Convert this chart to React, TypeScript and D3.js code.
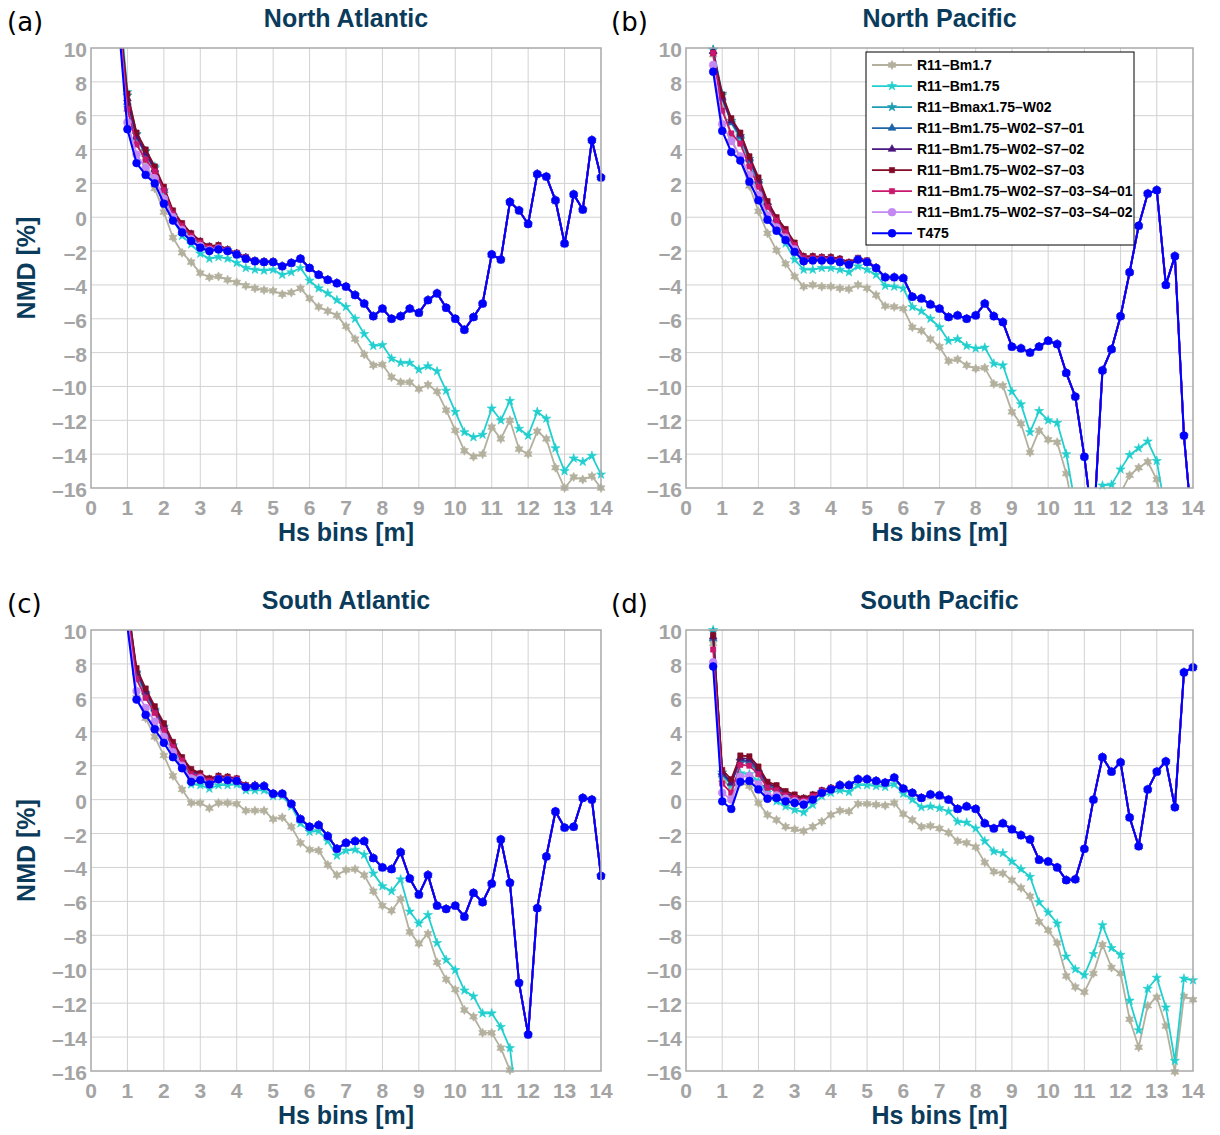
import React from "react";
import * as d3 from "d3";

// Hs bin centres [m]
const HS_BINS = [0.75, 1, 1.25, 1.5, 1.75, 2, 2.25, 2.5, 2.75, 3, 3.25, 3.5, 3.75, 4, 4.25, 4.5, 4.75, 5, 5.25, 5.5, 5.75, 6, 6.25, 6.5, 6.75, 7, 7.25, 7.5, 7.75, 8, 8.25, 8.5, 8.75, 9, 9.25, 9.5, 9.75, 10, 10.25, 10.5, 10.75, 11, 11.25, 11.5, 11.75, 12, 12.25, 12.5, 12.75, 13, 13.25, 13.5, 13.75, 14];

const X_TICKS = [0, 1, 2, 3, 4, 5, 6, 7, 8, 9, 10, 11, 12, 13, 14];
const Y_TICKS = [10, 8, 6, 4, 2, 0, -2, -4, -6, -8, -10, -12, -14, -16];

const SERIES_NAMES = [
  "R11–Bm1.7",
  "R11–Bm1.75",
  "R11–Bmax1.75–W02",
  "R11–Bm1.75–W02–S7–01",
  "R11–Bm1.75–W02–S7–02",
  "R11–Bm1.75–W02–S7–03",
  "R11–Bm1.75–W02–S7–03–S4–01",
  "R11–Bm1.75–W02–S7–03–S4–02",
  "T475",
];
const SERIES_COLORS = ["#b3b09e", "#22cfcf", "#1c9db3", "#1f63a8", "#4a167e", "#820a26", "#c8176c", "#c388f2", "#0000ff"];
const SERIES_MARKERS = ["hexagram", "star", "star", "triangle", "triangle", "square", "square", "circle", "circle"];

// ---- North Atlantic ----
// common part of the W02 runs and T475 from Hs = 5.25 m on
const NA_TAIL = [-2.9, -2.7, -2.45, -3.0, -3.4, -3.7, -3.9, -4.1, -4.6, -5.1, -5.85, -5.4, -6.0, -5.85, -5.4, -5.65, -4.9, -4.5, -5.35, -6.0, -6.65, -5.9, -5.1, -2.2, -2.5, 0.9, 0.4, -0.4, 2.55, 2.4, 1.0, -1.55, 1.35, 0.45, 4.55, 2.35];
const NA_BM17 = [12.5, 6.4, 4.4, 3.3, 1.7, 0.3, -1.2, -2.1, -2.65, -3.3, -3.55, -3.5, -3.7, -3.85, -4.05, -4.2, -4.3, -4.35, -4.55, -4.45, -4.2, -4.8, -5.3, -5.55, -5.8, -6.45, -7.2, -8.1, -8.75, -8.7, -9.45, -9.75, -9.75, -10.15, -9.9, -10.3, -11.4, -12.6, -13.8, -14.15, -14.0, -12.4, -13.1, -12.0, -13.7, -14.0, -12.65, -13.1, -14.8, -16.0, -15.35, -15.5, -15.3, -16.0];
const NA_BM175 = [13.5, 7.4, 4.9, 3.9, 3.0, 1.4, -0.1, -1.1, -1.6, -2.15, -2.45, -2.35, -2.45, -2.7, -3.0, -3.1, -3.15, -3.1, -3.4, -3.25, -3.0, -3.75, -4.2, -4.5, -4.9, -5.3, -6.0, -6.9, -7.6, -7.55, -8.35, -8.6, -8.6, -9.0, -8.8, -9.1, -10.25, -11.5, -12.7, -13.0, -12.85, -11.3, -12.0, -10.85, -12.5, -12.9, -11.5, -11.9, -13.65, -15.0, -14.25, -14.45, -14.1, -15.2];
const NA_BMAX = [13.0, 7.2, 4.9, 3.9, 2.9, 1.6, 0.1, -0.7, -1.2, -1.6, -1.9, -1.8, -1.95, -2.2, -2.45, -2.6, -2.65, -2.65, ...NA_TAIL];
const NA_S701 = [12.3, 6.8, 4.7, 3.7, 2.8, 1.6, 0.2, -0.5, -1.05, -1.5, -1.8, -1.75, -1.95, -2.15, -2.4, -2.6, -2.65, -2.65, ...NA_TAIL];
const NA_S702 = [12.4, 7.0, 4.8, 3.8, 2.85, 1.7, 0.3, -0.45, -1.0, -1.45, -1.75, -1.7, -1.95, -2.15, -2.4, -2.6, -2.65, -2.65, ...NA_TAIL];
const NA_S703 = [12.5, 7.3, 5.0, 4.0, 3.0, 1.8, 0.4, -0.35, -0.95, -1.4, -1.7, -1.65, -1.9, -2.1, -2.35, -2.55, -2.6, -2.6, ...NA_TAIL];
const NA_S401 = [12.3, 6.4, 4.3, 3.4, 2.7, 1.6, 0.2, -0.5, -1.1, -1.5, -1.8, -1.75, -1.95, -2.15, -2.4, -2.6, -2.65, -2.65, ...NA_TAIL];
const NA_S402 = [12.0, 5.6, 3.7, 2.9, 2.3, 1.1, 0.0, -0.75, -1.3, -1.7, -1.95, -1.85, -2.0, -2.2, -2.45, -2.6, -2.65, -2.65, ...NA_TAIL];
const NA_T475 = [11.7, 5.2, 3.2, 2.5, 2.0, 0.8, -0.2, -0.9, -1.4, -1.8, -2.0, -1.9, -2.0, -2.2, -2.45, -2.6, -2.65, -2.65, ...NA_TAIL];

// ---- North Pacific ----
const NP_TAIL = [-3.0, -3.55, -3.55, -3.6, -4.7, -4.8, -5.15, -5.4, -5.9, -5.8, -6.0, -5.8, -5.1, -5.85, -6.2, -7.65, -7.75, -8.0, -7.65, -7.3, -7.5, -9.2, -10.6, -14.15, -18.5, -9.05, -7.8, -5.85, -3.25, -0.5, 1.4, 1.6, -4.0, -2.3, -12.9, -19.0];
const NP_BM17 = [9.6, 6.6, 4.7, 3.4, 1.85, 0.35, -0.95, -1.95, -2.75, -3.5, -4.1, -4.0, -4.1, -4.1, -4.2, -4.25, -4.0, -4.2, -4.6, -5.25, -5.3, -5.4, -6.5, -6.7, -7.2, -7.65, -8.5, -8.4, -8.75, -8.95, -8.9, -9.85, -9.95, -11.5, -12.2, -13.9, -12.6, -13.15, -13.3, -15.15, -18.0, -18.5, -18.0, -17.5, -17.0, -16.3, -15.25, -14.8, -14.45, -15.5, -18.0, null, null, null];
const NP_BM175 = [9.9, 7.2, 5.6, 4.6, 3.3, 2.0, 0.1, -0.75, -1.55, -2.5, -3.1, -3.1, -3.0, -3.0, -3.1, -3.25, -2.9, -3.1, -3.4, -4.05, -4.1, -4.2, -5.3, -5.55, -6.0, -6.5, -7.3, -7.2, -7.6, -7.75, -7.7, -8.65, -8.75, -10.3, -11.05, -12.7, -11.45, -12.0, -12.15, -14.0, -17.0, -17.5, -16.8, -15.85, -15.8, -14.9, -14.05, -13.65, -13.25, -14.4, -17.5, null, null, null];
const NP_BMAX = [9.9, 7.3, 5.7, 4.8, 3.45, 2.15, 0.7, -0.3, -1.1, -1.9, -2.5, -2.5, -2.5, -2.5, -2.65, -2.8, -2.5, -2.65, ...NP_TAIL];
const NP_S701 = [9.8, 7.0, 5.6, 4.8, 3.4, 2.1, 0.75, -0.2, -0.9, -1.7, -2.4, -2.4, -2.45, -2.45, -2.55, -2.75, -2.5, -2.65, ...NP_TAIL];
const NP_S702 = [9.8, 7.1, 5.7, 4.9, 3.5, 2.2, 0.85, -0.1, -0.8, -1.6, -2.35, -2.35, -2.4, -2.4, -2.5, -2.7, -2.5, -2.65, ...NP_TAIL];
const NP_S703 = [9.7, 7.25, 5.85, 5.0, 3.6, 2.35, 0.95, 0.0, -0.7, -1.5, -2.3, -2.3, -2.35, -2.35, -2.45, -2.65, -2.4, -2.55, ...NP_TAIL];
const NP_S401 = [9.7, 6.3, 4.95, 4.35, 3.0, 1.8, 0.6, -0.2, -0.9, -1.65, -2.4, -2.4, -2.4, -2.45, -2.55, -2.8, -2.5, -2.65, ...NP_TAIL];
const NP_S402 = [9.0, 5.5, 4.5, 3.6, 2.5, 1.3, 0.1, -0.6, -1.2, -1.9, -2.6, -2.55, -2.55, -2.55, -2.65, -2.8, -2.5, -2.65, ...NP_TAIL];
const NP_T475 = [8.6, 5.1, 3.85, 3.35, 2.1, 1.0, -0.15, -0.8, -1.35, -2.05, -2.6, -2.55, -2.55, -2.55, -2.65, -2.8, -2.5, -2.65, ...NP_TAIL];

// ---- South Atlantic ----
const SA_TAIL = [0.35, 0.35, -0.25, -1.15, -1.6, -1.5, -2.15, -2.9, -2.55, -2.45, -2.45, -3.45, -4.0, -4.1, -3.1, -4.65, -5.6, -4.45, -6.25, -6.45, -6.25, -6.9, -5.5, -6.05, -4.95, -2.35, -4.9, -10.8, -13.85, -6.4, -3.35, -0.7, -1.65, -1.6, 0.1, 0.0, -4.5];
const SA_BM17 = [null, 11.0, 6.0, 4.8, 3.7, 2.6, 1.4, 0.6, -0.2, -0.2, -0.5, -0.2, -0.2, -0.25, -0.65, -0.65, -0.65, -1.15, -1.05, -1.6, -2.55, -2.95, -3.0, -3.85, -4.45, -4.15, -4.1, -4.45, -5.4, -6.25, -6.55, -5.85, -7.8, -8.5, -7.9, -9.6, -10.6, -11.2, -12.4, -12.8, -13.75, -13.75, -14.65, -15.95, -20.0, null, null, null, null, null, null, null, null, null];
const SA_BM175 = [null, 12.0, 7.3, 6.2, 5.2, 4.1, 3.0, 2.0, 0.9, 0.85, 0.65, 0.85, 0.85, 0.9, 0.55, 0.55, 0.55, 0.2, 0.2, -0.4, -1.4, -1.9, -1.85, -2.45, -3.3, -3.0, -2.95, -3.25, -4.35, -5.1, -5.4, -4.7, -6.6, -7.3, -6.8, -8.45, -9.45, -10.05, -11.25, -11.6, -12.6, -12.6, -13.4, -14.65, -19.0, null, null, null, null, null, null, null, null, null];
const SA_BMAX = [null, 11.8, 7.5, 6.3, 5.3, 4.3, 3.2, 2.2, 1.3, 1.2, 0.95, 1.2, 1.15, 1.1, 0.75, 0.8, 0.8, ...SA_TAIL];
const SA_S701 = [null, 11.3, 7.5, 6.3, 5.3, 4.3, 3.2, 2.3, 1.6, 1.45, 1.15, 1.3, 1.25, 1.15, 0.8, 0.8, 0.8, ...SA_TAIL];
const SA_S702 = [null, 11.4, 7.6, 6.4, 5.4, 4.4, 3.3, 2.4, 1.7, 1.5, 1.2, 1.35, 1.3, 1.2, 0.8, 0.85, 0.8, ...SA_TAIL];
const SA_S703 = [null, 11.5, 7.75, 6.55, 5.5, 4.5, 3.4, 2.5, 1.8, 1.55, 1.25, 1.4, 1.35, 1.25, 0.85, 0.85, 0.8, ...SA_TAIL];
const SA_S401 = [null, 11.0, 7.1, 6.0, 5.1, 4.1, 3.1, 2.3, 1.5, 1.4, 1.1, 1.3, 1.25, 1.2, 0.8, 0.8, 0.8, ...SA_TAIL];
const SA_S402 = [null, 10.6, 6.4, 5.4, 4.6, 3.7, 2.8, 2.0, 1.25, 1.25, 0.9, 1.2, 1.15, 1.1, 0.75, 0.8, 0.8, ...SA_TAIL];
const SA_T475 = [null, 10.2, 5.9, 5.0, 4.15, 3.35, 2.5, 1.85, 1.05, 1.15, 0.9, 1.2, 1.15, 1.1, 0.75, 0.8, 0.8, ...SA_TAIL];

// ---- South Pacific ----
const SP_TAIL = [0.85, 0.85, 1.2, 1.2, 1.1, 1.0, 1.3, 0.65, 0.4, 0.1, 0.3, 0.25, 0.0, -0.55, -0.4, -0.55, -1.4, -1.7, -1.4, -1.75, -2.1, -2.35, -3.55, -3.65, -4.0, -4.75, -4.7, -2.9, 0.0, 2.5, 1.65, 2.2, -1.05, -2.75, 0.6, 1.65, 2.25, -0.45, 7.5, 7.8];
const SP_BM17 = [9.2, 1.2, 0.7, 1.0, 0.8, -0.2, -0.9, -1.2, -1.6, -1.75, -1.85, -1.6, -1.3, -0.9, -0.65, -0.7, -0.25, -0.25, -0.3, -0.35, -0.2, -0.85, -1.2, -1.6, -1.55, -1.7, -1.95, -2.45, -2.55, -2.8, -3.7, -4.25, -4.35, -4.75, -5.2, -5.7, -7.2, -7.7, -8.45, -10.4, -11.05, -11.35, -10.25, -8.55, -9.9, -10.25, -12.95, -14.6, -12.15, -11.65, -13.35, -16.05, -11.6, -11.8];
const SP_BM175 = [10.0, 1.45, 0.85, 1.55, 1.5, 1.1, 0.4, -0.1, -0.4, -0.6, -0.75, -0.3, 0.2, 0.4, 0.55, 0.45, 0.85, 0.85, 0.8, 0.75, 0.9, 0.35, 0.0, -0.45, -0.4, -0.5, -0.7, -1.3, -1.35, -1.7, -2.45, -3.05, -3.15, -3.65, -4.1, -4.55, -6.05, -6.65, -7.3, -9.25, -10.0, -10.35, -9.1, -7.4, -8.75, -9.15, -11.85, -13.6, -11.15, -10.5, -12.25, -15.4, -10.55, -10.65];
const SP_BMAX = [9.9, 1.6, 1.05, 2.3, 2.2, 1.6, 0.75, 0.5, 0.15, -0.05, -0.15, 0.1, 0.45, 0.6, ...SP_TAIL];
const SP_S701 = [9.5, 1.5, 0.95, 2.3, 2.25, 1.7, 0.85, 0.65, 0.3, 0.1, 0.0, 0.2, 0.45, 0.65, ...SP_TAIL];
const SP_S702 = [9.6, 1.6, 1.0, 2.45, 2.4, 1.8, 0.95, 0.75, 0.4, 0.2, 0.05, 0.25, 0.5, 0.65, ...SP_TAIL];
const SP_S703 = [9.7, 1.75, 1.2, 2.6, 2.55, 1.95, 1.05, 0.85, 0.5, 0.3, 0.1, 0.3, 0.55, 0.7, ...SP_TAIL];
const SP_S401 = [8.85, 0.95, 0.4, 2.05, 2.0, 1.5, 0.7, 0.55, 0.25, 0.1, -0.05, 0.2, 0.5, 0.65, ...SP_TAIL];
const SP_S402 = [8.1, 0.4, 0.0, 1.35, 1.4, 0.9, 0.25, 0.25, 0.05, -0.1, -0.2, 0.0, 0.4, 0.6, ...SP_TAIL];
const SP_T475 = [7.85, -0.1, -0.55, 1.05, 1.1, 0.6, 0.05, 0.1, -0.1, -0.2, -0.3, 0.0, 0.4, 0.6, ...SP_TAIL];

type Series = (number | null)[];

const PANELS: { key: string; letter: string; title: string; series: Series[] }[] = [
  { key: "na", letter: "(a)", title: "North Atlantic", series: [NA_BM17, NA_BM175, NA_BMAX, NA_S701, NA_S702, NA_S703, NA_S401, NA_S402, NA_T475] },
  { key: "np", letter: "(b)", title: "North Pacific", series: [NP_BM17, NP_BM175, NP_BMAX, NP_S701, NP_S702, NP_S703, NP_S401, NP_S402, NP_T475] },
  { key: "sa", letter: "(c)", title: "South Atlantic", series: [SA_BM17, SA_BM175, SA_BMAX, SA_S701, SA_S702, SA_S703, SA_S401, SA_S402, SA_T475] },
  { key: "sp", letter: "(d)", title: "South Pacific", series: [SP_BM17, SP_BM175, SP_BMAX, SP_S701, SP_S702, SP_S703, SP_S401, SP_S402, SP_T475] },
];

// plot rectangles of the 2x2 grid
const FRAMES = [
  { left: 91, right: 601, top: 48, bottom: 488 },
  { left: 686, right: 1193, top: 48, bottom: 488 },
  { left: 91, right: 601, top: 630, bottom: 1071 },
  { left: 686, right: 1193, top: 630, bottom: 1071 },
];

const FONT = "'Liberation Sans', Arial, Helvetica, sans-serif";
const TITLE_COLOR = "#0b3b5b";
const TICK_COLOR = "#a4a4a4";

function hexagramPath(r: number): string {
  const inner = r * 0.55;
  const pts: string[] = [];
  for (let k = 0; k < 12; k++) {
    const a = (Math.PI / 6) * k - Math.PI / 2;
    const rr = k % 2 === 0 ? r : inner;
    pts.push(`${(rr * Math.cos(a)).toFixed(2)},${(rr * Math.sin(a)).toFixed(2)}`);
  }
  return "M" + pts.join("L") + "Z";
}

const MARKER_PATHS: Record<string, string> = {
  hexagram: hexagramPath(4.6),
  star: d3.symbol(d3.symbolStar, 26)() as string,
  triangle: d3.symbol(d3.symbolTriangle, 26)() as string,
  square: d3.symbol(d3.symbolSquare, 28)() as string,
  circle: d3.symbol(d3.symbolCircle, 48)() as string,
};

const fmt = (v: number) => (v < 0 ? "–" + Math.abs(v) : String(v));

function Panel({ idx }: { idx: number }) {
  const panel = PANELS[idx];
  const f = FRAMES[idx];
  const x = d3.scaleLinear().domain([0, 14]).range([f.left, f.right]);
  const y = d3.scaleLinear().domain([-16, 10]).range([f.bottom, f.top]);
  const line = d3
    .line<number | null>()
    .defined((v) => v !== null)
    .x((_, i) => x(HS_BINS[i]))
    .y((v) => y(v as number));
  const clipId = `clip-${panel.key}`;
  const cx = (f.left + f.right) / 2;
  const cy = (f.top + f.bottom) / 2;
  const isLeft = idx % 2 === 0;
  const letterX = isLeft ? 7 : 611;

  return (
    <g>
      <defs>
        <clipPath id={clipId}>
          <rect x={f.left} y={f.top} width={f.right - f.left} height={f.bottom - f.top} />
        </clipPath>
      </defs>
      <rect x={f.left} y={f.top} width={f.right - f.left} height={f.bottom - f.top} fill="#fff" />
      {X_TICKS.slice(1, -1).map((t) => (
        <line key={"gx" + t} x1={x(t)} x2={x(t)} y1={f.top} y2={f.bottom} stroke="#d2d2d2" strokeWidth={1} />
      ))}
      {Y_TICKS.slice(1, -1).map((t) => (
        <line key={"gy" + t} x1={f.left} x2={f.right} y1={y(t)} y2={y(t)} stroke="#d2d2d2" strokeWidth={1} />
      ))}
      {panel.series.map((s, si) => (
        <g key={"s" + si}>
          <path
            d={line(s) || ""}
            fill="none"
            stroke={SERIES_COLORS[si]}
            strokeWidth={si === 8 ? 2.1 : 1.8}
            strokeLinejoin="round"
            clipPath={`url(#${clipId})`}
          />
          {s.map((v, i) =>
            v !== null && v >= -16.05 && v <= 10.05 ? (
              <path
                key={i}
                d={MARKER_PATHS[SERIES_MARKERS[si]]}
                transform={`translate(${x(HS_BINS[i])},${y(v)})`}
                fill={SERIES_COLORS[si]}
                stroke={SERIES_COLORS[si]}
                strokeWidth={0.6}
              />
            ) : null
          )}
        </g>
      ))}
      <rect x={f.left} y={f.top} width={f.right - f.left} height={f.bottom - f.top} fill="none" stroke="#a8a8a8" strokeWidth={1.5} />
      {Y_TICKS.map((t) => (
        <text key={"yl" + t} x={f.left - 4} y={y(t) + 9} textAnchor="end" fontFamily={FONT} fontWeight="bold" fontSize={21} fill={TICK_COLOR}>
          {fmt(t)}
        </text>
      ))}
      {X_TICKS.map((t) => (
        <text key={"xl" + t} x={x(t)} y={f.bottom + 27} textAnchor="middle" fontFamily={FONT} fontWeight="bold" fontSize={21} fill={TICK_COLOR}>
          {t}
        </text>
      ))}
      <text x={cx} y={f.top - 21} textAnchor="middle" fontFamily={FONT} fontWeight="bold" fontSize={25} fill={TITLE_COLOR}>
        {panel.title}
      </text>
      <text x={cx} y={f.bottom + 53} textAnchor="middle" fontFamily={FONT} fontWeight="bold" fontSize={25} fill={TITLE_COLOR}>
        Hs bins [m]
      </text>
      {isLeft && (
        <text
          transform={`translate(${f.left - 56},${cy}) rotate(-90)`}
          textAnchor="middle"
          fontFamily={FONT}
          fontWeight="bold"
          fontSize={25}
          fill={TITLE_COLOR}
        >
          NMD [%]
        </text>
      )}
      <text x={letterX} y={f.top - 17} fontFamily="'DejaVu Sans', sans-serif" fontSize={26} fill="#000">
        {panel.letter}
      </text>
    </g>
  );
}

function Legend() {
  const left = 866;
  const top = 52;
  const width = 268;
  const height = 193;
  const rowH = 21.03;
  return (
    <g>
      <rect x={left} y={top} width={width} height={height} fill="#fff" stroke="#000" strokeWidth={1} />
      {SERIES_NAMES.map((name, i) => {
        const yy = top + 13 + i * rowH;
        return (
          <g key={name}>
            <line x1={left + 6} x2={left + 46} y1={yy} y2={yy} stroke={SERIES_COLORS[i]} strokeWidth={1.8} />
            <path d={MARKER_PATHS[SERIES_MARKERS[i]]} transform={`translate(${left + 26},${yy})`} fill={SERIES_COLORS[i]} stroke={SERIES_COLORS[i]} strokeWidth={0.6} />
            <text x={left + 51} y={yy + 5} fontFamily={FONT} fontWeight="bold" fontSize={14} fill="#000">
              {name}
            </text>
          </g>
        );
      })}
    </g>
  );
}

export default function App() {
  return (
    <svg
      width={1220}
      height={1135}
      viewBox="0 0 1220 1135"
      style={{ position: "absolute", left: 0, top: 0, background: "#fff" }}
    >
      <rect width={1220} height={1135} fill="#fff" />
      {PANELS.map((_, i) => (
        <Panel key={i} idx={i} />
      ))}
      <Legend />
    </svg>
  );
}
